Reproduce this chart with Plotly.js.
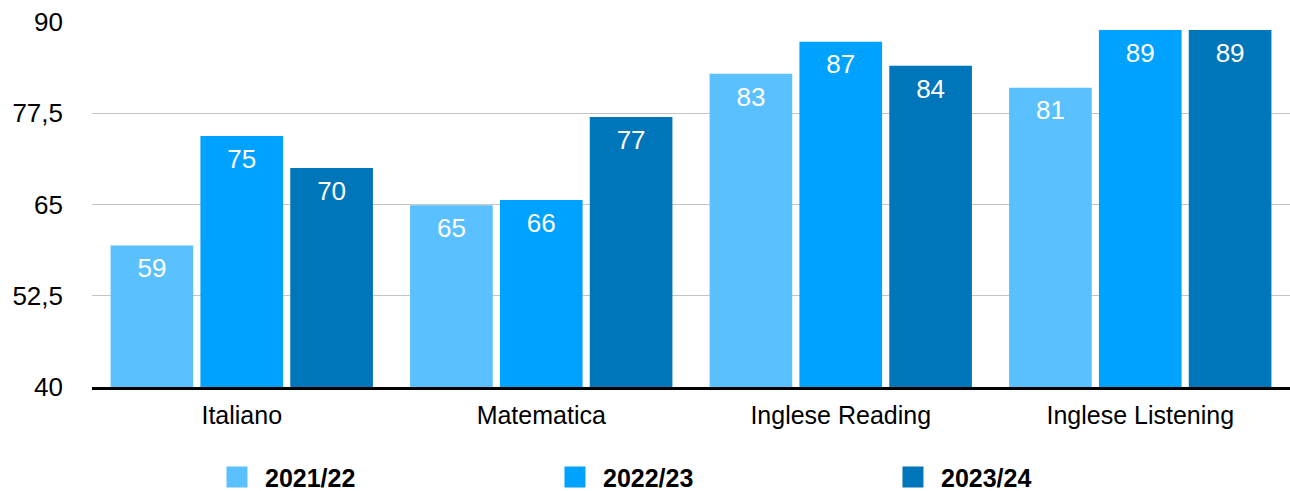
<!DOCTYPE html>
<html><head><meta charset="utf-8">
<script src="https://cdn.plot.ly/plotly-3.0.1.min.js"></script>
<style>html,body{margin:0;padding:0;background:#fff}#chart{width:1290px;height:491px}</style>
</head><body><div id="chart"></div>
<script>
const categories = ['Italiano', 'Matematica', 'Inglese Reading', 'Inglese Listening'];
const seriesNames = ['2021/22', '2022/23', '2023/24'];
const values2122 = [59.4, 64.9, 82.9, 81.0];
const values2223 = [74.4, 65.6, 87.3, 88.9];
const values2324 = [70.0, 77.0, 84.0, 88.9];
const labels2122 = ['59', '65', '83', '81'];
const labels2223 = ['75', '66', '87', '89'];
const labels2324 = ['70', '77', '84', '89'];
const yTicks = [40, 52.5, 65, 77.5, 90];
const colors = ['#5AC0FE', '#00A2FF', '#0076BA'];

const allValues = [values2122, values2223, values2324];
const allLabels = [labels2122, labels2223, labels2324];
const FONT = '"Liberation Sans", Arial, Helvetica, sans-serif';

const traces = [];
allValues.forEach((vals, i) => {
  traces.push({
    type: 'bar', x: categories, y: vals, name: seriesNames[i],
    marker: {color: colors[i]}, offsetgroup: String(i), showlegend: false,
    hoverinfo: 'x+y+name'
  });
});
allValues.forEach((vals, i) => {
  traces.push({
    type: 'scatter', mode: 'markers+text', x: categories, y: vals,
    text: allLabels[i], textposition: 'bottom center',
    textfont: {color: '#ffffff', size: 26, family: FONT},
    marker: {size: 18, opacity: 0, color: colors[i]},
    offsetgroup: String(i), showlegend: false, hoverinfo: 'skip', cliponaxis: false
  });
});
allValues.forEach((vals, i) => {
  traces.push({
    type: 'scatter', mode: 'markers', x: [null], y: [null], name: seriesNames[i],
    marker: {symbol: 'square', size: 26, color: colors[i], line: {color: colors[i], width: 5}},
    offsetgroup: String(i), showlegend: true, hoverinfo: 'skip'
  });
});

const layout = {
  width: 1290, height: 491,
  margin: {l: 92, r: 0, t: 22, b: 104},
  paper_bgcolor: '#ffffff', plot_bgcolor: '#ffffff',
  font: {family: FONT, color: '#000000', size: 25},
  separators: ', ',
  barmode: 'group', bargap: 0.1, bargroupgap: 0.08,
  scattermode: 'group', scattergap: 0.1,
  xaxis: {
    type: 'category', showgrid: false, showline: true, linecolor: '#000000', linewidth: 2.5,
    ticks: '', tickfont: {size: 25, family: FONT}, ticklabelstandoff: 4, zeroline: false
  },
  yaxis: {
    range: [40, 90], tickvals: yTicks, ticktext: yTicks.map(v => String(v).replace('.', ',')),
    showgrid: true, gridcolor: '#c4c4c4', gridwidth: 1, zeroline: false, showline: false,
    ticks: '', tickfont: {size: 26, family: FONT}, ticklabelstandoff: 28
  },
  showlegend: true,
  legend: {
    orientation: 'h', xref: 'container', yref: 'container',
    x: 0.162, xanchor: 'left', y: 0.028, yanchor: 'middle',
    entrywidth: 277, entrywidthmode: 'pixels', itemsizing: 'trace', itemwidth: 46,
    font: {size: 25, family: FONT, weight: 'bold'}, bgcolor: 'rgba(0,0,0,0)'
  }
};

Plotly.newPlot('chart', traces, layout, {displayModeBar: false, responsive: false});
</script>
</body></html>
